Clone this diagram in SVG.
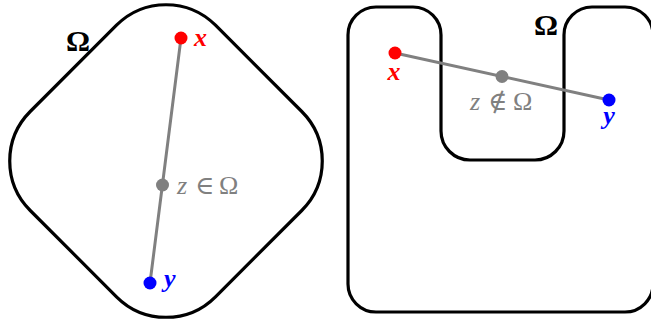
<svg xmlns="http://www.w3.org/2000/svg" width="651" height="324" viewBox="0 0 651 324">
  <style>
    .region { fill: none; stroke: #000; stroke-width: 3.2; stroke-linejoin: round; }
    .seg { stroke: #808080; stroke-width: 3; stroke-linecap: round; fill: none; }
    .lbl { font-family: "Liberation Serif", "DejaVu Serif", serif; font-size: 26px; }
    .var { font-style: italic; font-weight: bold; }
    .omega { font-family: "Liberation Serif", "DejaVu Serif", serif; font-size: 30px; font-weight: bold; fill: #000; }
    .gray { fill: #808080; }
    .red { fill: #ff0000; }
    .blue { fill: #0000ff; }
  </style>
  <rect width="651" height="324" fill="#fff"/>

  <g id="region-left">
    <rect class="region" x="-131" y="-131" width="262" height="262" rx="70" ry="70" transform="translate(166 161) rotate(45)"/>
    <text class="omega" x="66" y="51">Ω</text>
  </g>

  <g id="region-right">
    <path class="region" d="M348,35 A28,28 0 0 1 376,7 L413,7 A28,28 0 0 1 441,35 L441,131 A29,29 0 0 0 470,160 L535,160 A29,29 0 0 0 564,131 L564,35 A28,28 0 0 1 592,7 L625,7 A28,28 0 0 1 653,35 L653,284 A28,28 0 0 1 625,312 L376,312 A28,28 0 0 1 348,284 Z"/>
    <text class="omega" x="534" y="35">Ω</text>
  </g>

  <g id="connectors">
    <line class="seg" x1="181" y1="38" x2="150" y2="283"/>
    <line class="seg" x1="395" y1="53" x2="609" y2="100"/>
  </g>

  <g id="x-left">
    <circle cx="181" cy="38" r="6.5" class="red"/>
    <text class="lbl var red" x="194" y="46">x</text>
  </g>
  <g id="z-left">
    <circle cx="162.5" cy="185" r="6.5" class="gray"/>
    <text class="lbl gray" y="194"><tspan x="177" font-style="italic">z</tspan><tspan x="195">∈</tspan><tspan x="219">Ω</tspan></text>
  </g>
  <g id="y-left">
    <circle cx="150" cy="283" r="6.5" class="blue"/>
    <text class="lbl var blue" x="164" y="287">y</text>
  </g>

  <g id="x-right">
    <circle cx="395" cy="53" r="6.5" class="red"/>
    <text class="lbl var red" x="394" y="80" text-anchor="middle">x</text>
  </g>
  <g id="z-right">
    <circle cx="502" cy="76.5" r="6.5" class="gray"/>
    <text class="lbl gray" y="110"><tspan x="470" font-style="italic">z</tspan><tspan x="488">∉</tspan><tspan x="513">Ω</tspan></text>
  </g>
  <g id="y-right">
    <circle cx="609" cy="100" r="6.5" class="blue"/>
    <text class="lbl var blue" x="609" y="124" text-anchor="middle">y</text>
  </g>
</svg>
